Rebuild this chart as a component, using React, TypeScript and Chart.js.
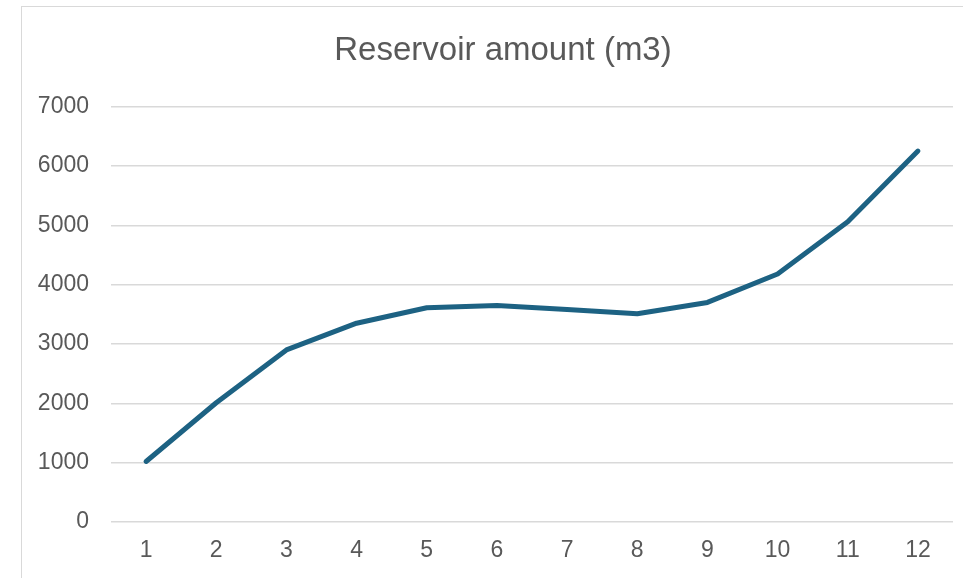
import React, { useEffect, useRef } from "react";
import { Chart, registerables } from "chart.js";

Chart.register(...registerables);

const categories: string[] = ["1", "2", "3", "4", "5", "6", "7", "8", "9", "10", "11", "12"];
const reservoirValues: number[] = [1020, 2010, 2900, 3350, 3610, 3650, 3580, 3510, 3700, 4180, 5060, 6250];
const chartTitle = "Reservoir amount (m3)";
const yMin = 0;
const yMax = 7000;
const yStep = 1000;

const FONT = "'Liberation Sans', Arial, sans-serif";

export default function App() {
  const canvasRef = useRef<HTMLCanvasElement | null>(null);

  useEffect(() => {
    if (!canvasRef.current) return;
    const chart = new Chart(canvasRef.current, {
      type: "line",
      data: {
        labels: categories,
        datasets: [
          {
            label: "Reservoir amount",
            data: reservoirValues,
            borderColor: "#1d6283",
            backgroundColor: "#1d6283",
            borderWidth: 5,
            borderCapStyle: "round",
            borderJoinStyle: "round",
            pointRadius: 0,
            tension: 0,
            fill: false,
          },
        ],
      },
      options: {
        animation: false,
        responsive: false,
        maintainAspectRatio: false,
        layout: { padding: { top: 0, right: 0, left: 0, bottom: 0 } },
        plugins: {
          legend: { display: false },
          tooltip: { enabled: false },
          title: {
            display: true,
            text: chartTitle,
            color: "#595959",
            font: { family: FONT, size: 33, weight: "normal" },
            padding: { top: 31, bottom: 36 },
          },
        },
        scales: {
          x: {
            offset: true,
            grid: { display: false, drawTicks: false },
            border: { display: false },
            ticks: {
              color: "#595959",
              font: { family: FONT, size: 23 },
              padding: 15,
              maxRotation: 0,
            },
            afterFit: (scale: any) => {
              scale.height = 56;
            },
          },
          y: {
            min: yMin,
            max: yMax,
            grid: { color: "#d9d9d9", lineWidth: 1.5, drawTicks: false },
            border: { display: false },
            ticks: {
              stepSize: yStep,
              color: "#595959",
              font: { family: FONT, size: 23 },
              padding: 22,
              callback: (v: any) => String(v),
            },
            afterFit: (scale: any) => {
              scale.width = 111;
            },
          },
          yRightSpacer: {
            type: "linear",
            position: "right",
            display: true,
            min: yMin,
            max: yMax,
            grid: { display: false, drawTicks: false },
            border: { display: false },
            ticks: { display: false },
            afterFit: (scale: any) => {
              scale.width = 53;
            },
          },
        },
      },
    });
    return () => chart.destroy();
  }, []);

  return (
    <div style={{ position: "absolute", left: 0, top: 0, width: 963, height: 578, overflow: "hidden", background: "#ffffff" }}>
      <div
        style={{
          position: "absolute",
          left: 21,
          top: 6,
          width: 1200,
          height: 800,
          borderLeft: "1.5px solid #d9d9d9",
          borderTop: "1.5px solid #d9d9d9",
        }}
      />
      <canvas ref={canvasRef} width={1006} height={578} style={{ position: "absolute", left: 0, top: 0 }} />
    </div>
  );
}
